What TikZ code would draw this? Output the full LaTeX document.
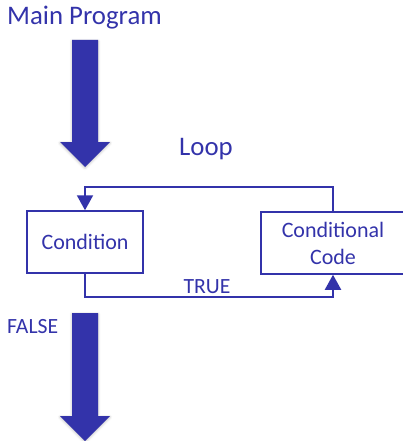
\documentclass[tikz,border=0pt]{standalone}
\usepackage{fontspec}
\setmainfont{Carlito}
\usetikzlibrary{arrows.meta,shadows.blur}
\definecolor{ink}{HTML}{3333AA}
\begin{document}
\begin{tikzpicture}[x=1pt,y=-1pt,
  label/.style={text=ink,font=\fontsize{21.7}{26}\selectfont,inner sep=0pt},
  biglabel/.style={text=ink,font=\fontsize{26.8}{30}\selectfont,inner sep=0pt},
  stepbox/.style={draw=ink,line width=1.5pt,inner sep=0pt,
    text=ink,font=\fontsize{22}{27}\selectfont,align=center},
  conn/.style={draw=ink,line width=2pt},
  tip/.style={-{Triangle[length=15pt,width=16pt]}},
  flow/.style={fill=ink,draw=none,
    blur shadow={shadow xshift=0pt,shadow yshift=-1pt,shadow blur radius=2.5pt,shadow opacity=25}},
]
\useasboundingbox (0,0) rectangle (402,441);

% headings
\node[biglabel,anchor=base west] (main) at (7,25) {Main Program};
\node[biglabel,anchor=base] (loop) at (206,155) {Loop};
\node[label,anchor=base] (true) at (207,293) {TRUE};
\node[label,anchor=base west] (false) at (7,333) {FALSE};

% flow arrows into and out of the loop
\path[flow] (72,40) -- (98,40) -- (98,142) -- (110,142) -- (85,167)
  -- (60,142) -- (72,142) -- cycle;
\path[flow] (72,313) -- (98,313) -- (98,416) -- (110,416) -- (85,441)
  -- (60,416) -- (72,416) -- cycle;

% boxes
\node[stepbox,minimum width=116pt,minimum height=62pt] (cond) at (85,242) {Condition};
\node[stepbox,minimum width=144pt,minimum height=62pt] (code) at (333,243)
  {Conditional\\Code};

% loop connectors
\coordinate (looptop) at (333,187);
\coordinate (truelevel) at (0,297);
\draw[conn,tip] (code.north) -- (looptop) -| (cond.north);
\draw[conn,tip] (cond.south) -- (cond.south |- truelevel) -| (code.south);
\end{tikzpicture}
\end{document}
